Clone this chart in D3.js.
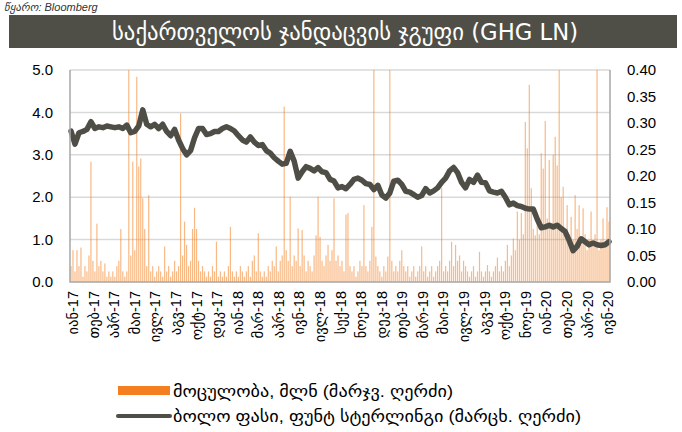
<!DOCTYPE html>
<html>
<head>
<meta charset="utf-8">
<script src="https://cdn.jsdelivr.net/npm/d3@7"></script>
<style>
  body { margin: 0; background: #fff; }
  svg { display: block; font-family: "Liberation Sans", Arial, "DejaVu Sans", sans-serif; }
</style>
</head>
<body>
<div id="chart"></div>
<script>
// ---- data ----
const title = "საქართველოს ჯანდაცვის ჯგუფი (GHG LN)";
const source = "წყარო: Bloomberg";

const monthLabels = ["იან-17", "თებ-17", "აპრ-17", "მაი-17", "ივლ-17", "აგვ-17", "ოქტ-17", "დეკ-17",
  "იან-18", "მარ-18", "აპრ-18", "ივნ-18", "ივლ-18", "სექ-18", "ნოე-18", "დეკ-18",
  "თებ-19", "მარ-19", "მაი-19", "ივლ-19", "აგვ-19", "ოქტ-19", "ნოე-19",
  "იან-20", "თებ-20", "აპრ-20", "ივნ-20"];

const leftTicks = [0, 1, 2, 3, 4, 5];
const rightTicks = [0, 0.05, 0.10, 0.15, 0.20, 0.25, 0.30, 0.35, 0.40];

// last price, GBP (left axis), one reading every 2 steps
const price = [3.56, 3.25, 3.52, 3.55, 3.60, 3.78, 3.62, 3.66, 3.64, 3.68, 3.66, 3.64, 3.66, 3.62, 3.70, 3.52,
  3.55, 3.68, 4.06, 3.72, 3.66, 3.72, 3.62, 3.72, 3.55, 3.45, 3.60, 3.35, 3.15, 3.00, 3.10, 3.40,
  3.62, 3.62, 3.48, 3.50, 3.55, 3.55, 3.62, 3.66, 3.62, 3.56, 3.45, 3.35, 3.30, 3.42, 3.30, 3.22,
  3.24, 3.10, 3.04, 2.93, 2.85, 2.78, 2.80, 3.08, 2.85, 2.45, 2.60, 2.72, 2.68, 2.62, 2.70, 2.60,
  2.58, 2.42, 2.38, 2.22, 2.25, 2.20, 2.30, 2.42, 2.45, 2.40, 2.32, 2.30, 2.18, 2.28, 2.05, 1.98,
  2.10, 2.38, 2.40, 2.30, 2.14, 2.12, 2.06, 2.00, 2.04, 2.20, 2.10, 2.15, 2.22, 2.35, 2.45, 2.62,
  2.70, 2.58, 2.35, 2.22, 2.42, 2.35, 2.52, 2.35, 2.34, 2.15, 2.12, 2.10, 2.14, 2.00, 1.82, 1.86,
  1.80, 1.78, 1.74, 1.72, 1.72, 1.48, 1.28, 1.30, 1.34, 1.30, 1.34, 1.26, 1.19, 0.98, 0.74, 0.84,
  1.02, 0.95, 0.88, 0.92, 0.88, 0.86, 0.88, 0.95];

// volume, mln (right axis), one reading every step
const volume = [0.03, 0.06, 0.02, 0.06, 0.03, 0.065, 0.01, 0.03, 0.02, 0.05,
  0.227, 0.04, 0.02, 0.11, 0.03, 0.04, 0.02, 0.035, 0.01, 0.02,
  0.01, 0.02, 0.01, 0.03, 0.04, 0.10, 0.02, 0.01, 0.02, 0.40,
  0.05, 0.227, 0.06, 0.387, 0.218, 0.233, 0.158, 0.10, 0.03, 0.164,
  0.02, 0.03, 0.01, 0.02, 0.03, 0.02, 0.01, 0.067, 0.02, 0.03,
  0.01, 0.02, 0.04, 0.02, 0.03, 0.318, 0.05, 0.114, 0.07, 0.03,
  0.04, 0.10, 0.14, 0.10, 0.04, 0.02, 0.03, 0.02, 0.01, 0.02,
  0.01, 0.03, 0.02, 0.076, 0.01, 0.02, 0.01, 0.02, 0.01, 0.03,
  0.104, 0.02, 0.01, 0.02, 0.01, 0.03, 0.02, 0.01, 0.02, 0.03,
  0.01, 0.04, 0.05, 0.02, 0.092, 0.02, 0.01, 0.02, 0.01, 0.03,
  0.02, 0.04, 0.03, 0.067, 0.02, 0.04, 0.05, 0.331, 0.06, 0.04,
  0.161, 0.03, 0.05, 0.04, 0.101, 0.03, 0.098, 0.05, 0.02, 0.04,
  0.03, 0.02, 0.05, 0.088, 0.161, 0.085, 0.04, 0.03, 0.05, 0.07,
  0.04, 0.06, 0.158, 0.04, 0.05, 0.03, 0.04, 0.02, 0.127, 0.13,
  0.03, 0.02, 0.03, 0.01, 0.02, 0.04, 0.03, 0.145, 0.03, 0.02,
  0.04, 0.104, 0.40, 0.048, 0.03, 0.02, 0.01, 0.03, 0.02, 0.048,
  0.40, 0.04, 0.02, 0.03, 0.02, 0.04, 0.06, 0.03, 0.02, 0.03,
  0.01, 0.02, 0.03, 0.01, 0.02, 0.03, 0.067, 0.02, 0.03, 0.01,
  0.02, 0.03, 0.01, 0.02, 0.03, 0.04, 0.177, 0.02, 0.03, 0.02,
  0.04, 0.076, 0.03, 0.07, 0.04, 0.05, 0.02, 0.04, 0.03, 0.02,
  0.01, 0.02, 0.03, 0.01, 0.02, 0.057, 0.02, 0.01, 0.02, 0.032,
  0.02, 0.01, 0.02, 0.03, 0.046, 0.02, 0.03, 0.02, 0.04, 0.07,
  0.03, 0.05, 0.082, 0.06, 0.133, 0.08, 0.13, 0.09, 0.302, 0.252,
  0.372, 0.177, 0.10, 0.088, 0.12, 0.09, 0.243, 0.214, 0.304, 0.12,
  0.23, 0.11, 0.24, 0.274, 0.22, 0.40, 0.16, 0.18, 0.10, 0.145,
  0.09, 0.123, 0.08, 0.164, 0.10, 0.145, 0.07, 0.139, 0.09, 0.06,
  0.08, 0.133, 0.07, 0.09, 0.40, 0.06, 0.08, 0.12, 0.07, 0.141,
  0.114];

const volumeName = "მოცულობა, მლნ (მარჯვ. ღერძი)";
const priceName = "ბოლო ფასი, ფუნტ სტერლინგი (მარცხ. ღერძი)";

// ---- setup ----
const width = 682, height = 432;
const plot = { left: 70, right: 610, top: 70, bottom: 282 };
const orange = "#f47f20";
const dark = "#4f4e46";

const svg = d3.select("#chart").append("svg")
  .attr("width", width)
  .attr("height", height);

const x = d3.scaleLinear()
  .domain([0, volume.length - 1])
  .range([plot.left + 1, plot.right - 1]);

const yLeft = d3.scaleLinear().domain([0, 5]).range([plot.bottom, plot.top]);
const yRight = d3.scaleLinear().domain([0, 0.4]).range([plot.bottom, plot.top]);

// source line, small and tucked above the title bar
svg.append("text")
  .attr("x", 4)
  .attr("y", 11)
  .style("font-size", "11px")
  .style("font-style", "italic")
  .attr("fill", "#333")
  .text(source);

// title bar
svg.append("rect")
  .attr("x", 9)
  .attr("y", 15)
  .attr("width", 668)
  .attr("height", 33)
  .attr("fill", "#4f4f47");

svg.append("text")
  .attr("x", 345)
  .attr("y", 32)
  .attr("dy", "0.35em")
  .attr("text-anchor", "middle")
  .attr("fill", "#fff")
  .attr("textLength", 466)
  .attr("lengthAdjust", "spacingAndGlyphs")
  .style("font-family", "'DejaVu Sans Condensed', 'Liberation Sans Narrow', sans-serif")
  .style("font-size", "23px")
  .text(title);

// gridlines
svg.append("g")
  .selectAll("line")
  .data(leftTicks.filter(d => d > 0))
  .join("line")
  .attr("x1", plot.left)
  .attr("x2", plot.right)
  .attr("y1", d => yLeft(d))
  .attr("y2", d => yLeft(d))
  .attr("stroke", "#d9d9d9")
  .attr("stroke-width", 1.5);

// volume bars
svg.append("g")
  .selectAll("rect")
  .data(volume)
  .join("rect")
  .attr("x", (d, i) => x(i) - 0.6)
  .attr("width", 1.2)
  .attr("y", d => yRight(d))
  .attr("height", d => plot.bottom - yRight(d))
  .attr("fill", orange)
  .attr("fill-opacity", 0.55);

// price line
const line = d3.line()
  .x((d, i) => x(i * 2))
  .y(d => yLeft(d));

svg.append("path")
  .datum(price)
  .attr("d", line)
  .attr("fill", "none")
  .attr("stroke", dark)
  .attr("stroke-width", 5.5)
  .attr("stroke-linejoin", "round")
  .attr("stroke-linecap", "round");

// plot frame (left, bottom, right)
svg.append("path")
  .attr("d", `M${plot.left},${plot.top}V${plot.bottom}H${plot.right}V${plot.top}`)
  .attr("fill", "none")
  .attr("stroke", "#a6a6a6")
  .attr("stroke-width", 1.5);

// left axis labels
svg.append("g")
  .selectAll("text")
  .data(leftTicks)
  .join("text")
  .attr("x", 53)
  .attr("y", d => yLeft(d))
  .attr("dy", "0.35em")
  .attr("text-anchor", "end")
  .style("font-size", "15px")
  .attr("fill", "#000")
  .text(d => d3.format(".1f")(d));

// right axis labels
svg.append("g")
  .selectAll("text")
  .data(rightTicks)
  .join("text")
  .attr("x", 627)
  .attr("y", d => yRight(d))
  .attr("dy", "0.35em")
  .attr("text-anchor", "start")
  .style("font-size", "15px")
  .attr("fill", "#000")
  .text(d => d3.format(".2f")(d));

// x labels, rotated
const labelX = d3.scaleLinear()
  .domain([0, monthLabels.length - 1])
  .range([73, 608]);

svg.append("g")
  .selectAll("text")
  .data(monthLabels)
  .join("text")
  .attr("transform", (d, i) => `translate(${labelX(i)},291) rotate(-90)`)
  .attr("dy", "0.35em")
  .attr("text-anchor", "end")
  .style("font-size", "14.5px")
  .attr("fill", "#000")
  .text(d => d);

// legend
const legend = svg.append("g").style("font-size", "16px");

legend.append("rect")
  .attr("x", 118)
  .attr("y", 386)
  .attr("width", 52)
  .attr("height", 9)
  .attr("fill", orange);

legend.append("text")
  .attr("x", 173)
  .attr("y", 391)
  .attr("dy", "0.35em")
  .attr("textLength", 280)
  .attr("lengthAdjust", "spacingAndGlyphs")
  .text(volumeName);

legend.append("line")
  .attr("x1", 118)
  .attr("x2", 170)
  .attr("y1", 416)
  .attr("y2", 416)
  .attr("stroke", dark)
  .attr("stroke-width", 4)
  .attr("stroke-linecap", "round");

legend.append("text")
  .attr("x", 173)
  .attr("y", 416)
  .attr("dy", "0.35em")
  .attr("textLength", 408)
  .attr("lengthAdjust", "spacingAndGlyphs")
  .text(priceName);
</script>
</body>
</html>
